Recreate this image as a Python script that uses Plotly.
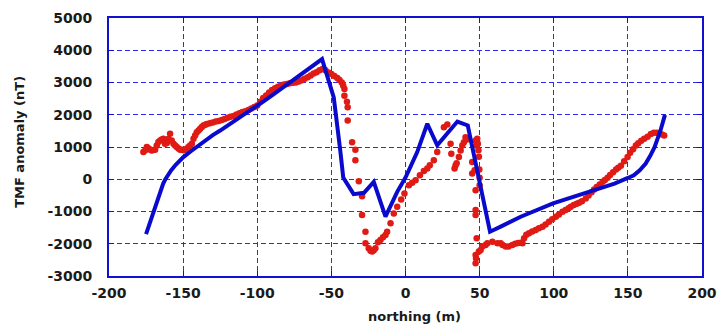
import plotly.graph_objects as go

# Observed TMF anomaly (red dots)
red_x = [-176.8, -175.5, -174.5, -173.5, -172.3, -171.2, -170.0, -168.9, -167.8, -166.7,
         -165.5, -164.4, -163.3, -162.2, -161.0, -160.0, -158.8, -157.7, -156.5, -155.4,
         -154.3, -153.1, -152.0, -150.9, -149.8, -148.6, -147.5, -146.4, -145.3, -144.1,
         -143.0, -141.9, -140.8, -139.6, -138.5, -137.4, -136.3, -135.1, -134, -132,
         -130, -128, -126, -124, -122, -120, -118, -116, -114, -112,
         -110, -108, -106, -104, -102, -100, -98, -96, -94, -92,
         -90, -88, -86, -84, -82, -80, -78, -76, -74, -72,
         -70, -68, -66, -64, -62, -60, -58, -56, -54, -52,
         -50, -48, -46, -44.5, -43, -42, -41.2, -41.2, -39.5, -39,
         -39, -36, -33.8, -33.8, -31.5, -29.3, -29.3, -27, -27, -24.8,
         -23.6, -22.5, -21.4, -20.3, -18.6, -16.9, -15.2, -13.5, -12.4, -10.1,
         -7.9, -5.6, -2.9, -0.7, 2.3, 4.5, 6.8, 9.7, 12.4, 14.7,
         16.4, 19.1, 21.4, 25.9, 28.2, 30.4, 30.9, 33.1, 33.8, 34.5,
         36, 37.2, 38.3, 39.4, 40.5, 41.5, 45, 45, 46.6, 47.3,
         48, 48.4, 48.8, 49.2, 49.5, 49.8, 50, 50, 47.3, 47.3,
         47.3, 48, 47.3, 47.3, 47.6, 49.5, 50.7, 51.8, 54, 55.2,
         58.6, 62, 64.2, 65.5, 67.6, 69.5, 72.1, 74, 76, 77.7,
         78.9, 80, 81.5, 83.3, 85.5, 87.8, 90, 92.4, 94.5, 96.8,
         99, 101.4, 103.5, 105.9, 108, 110, 111.5, 113.5, 115.5, 117.1,
         119, 121.6, 123.5, 125.5, 127.2, 129, 131, 133, 134.5, 136.3,
         138, 140, 142, 143.5, 145.3, 147.5, 149.8, 151.5, 153.5, 155.4,
         157, 159, 161, 163.3, 165.5, 167.5, 169.5, 171.5, 173, 174.5]
red_y = [843, 900, 997, 960, 920, 894, 910, 915, 1050, 1152,
         1204, 1230, 1255, 1100, 1121, 1250, 1409, 1200, 1100, 1050,
         997, 950, 915, 916, 900, 920, 947, 1000, 1050, 1100,
         1255, 1358, 1460, 1512, 1564, 1620, 1667, 1690, 1710, 1738,
         1760, 1790, 1810, 1840, 1870, 1904, 1935, 1965, 2006, 2045,
         2085, 2110, 2150, 2190, 2240, 2284, 2400, 2520, 2600, 2690,
         2770, 2820, 2870, 2905, 2935, 2954, 2975, 2990, 3003, 3030,
         3070, 3115, 3160, 3220, 3280, 3320, 3380, 3417, 3380, 3312,
         3260, 3200, 3140, 3080, 3003, 2900, 2799, 2593, 2400, 2231,
         1821, 1151, 916, 586, -62, -525, -1111, -1626, -1985, -2139,
         -2220, -2243, -2200, -2139, -1950, -1883, -1800, -1728, -1626, -1368,
         -1059, -854, -627, -442, -185, -110, -31, 123, 257, 330,
         432, 586, 843, 1614, 1697, 1100, 793, 330, 432, 500,
         688, 895, 1049, 1151, 1306, 1230, 534, 176, 278, 1204,
         1049, 1256, 1100, 900, 700, 300, 50, -185, -340, -957,
         -1111, -1830, -2346, -2602, -2450, -2243, -2191, -2089, -2037, -1985,
         -1935, -1985, -1985, -2040, -2089, -2089, -2037, -2000, -1980, -1966,
         -1985, -1830, -1720, -1676, -1620, -1574, -1520, -1472, -1400, -1318,
         -1240, -1163, -1090, -1009, -950, -900, -855, -800, -760, -731,
         -680, -596, -500, -400, -320, -240, -160, -80, -20, 50,
         130, 220, 300, 360, 420, 560, 690, 820, 930, 1049,
         1120, 1190, 1256, 1320, 1400, 1440, 1440, 1410, 1390, 1358]

# Model curve (blue line)
model_x = [-175, -172.5, -170.3, -167, -165, -163.5, -162, -160, -158, -155,
           -152, -150, -145, -140, -135, -130, -125, -120, -115, -110,
           -105, -100, -95, -90, -85, -80, -75, -70, -65, -60,
           -56.3, -52, -48.4, -44, -42, -35, -28, -21.4, -13.5, -5.6,
           0, 7.9, 14.7, 21.4, 35, 42, 57, 64.2, 77.7, 99.5,
           125, 141, 150, 154, 158, 162, 165, 168, 172, 175]
model_y = [-1700, -1350, -1008, -560, -320, -140, 0, 150, 280, 450,
           590, 680, 860, 1040, 1220, 1370, 1510, 1660, 1810, 1960,
           2120, 2280, 2440, 2600, 2770, 2930, 3100, 3270, 3430, 3600,
           3725, 3080, 2540, 895, 52, -463, -420, -83, -1160, -390,
           52, 843, 1720, 1050, 1790, 1667, -1626, -1470, -1163, -750,
           -390, -133, 40, 123, 280, 485, 720, 997, 1512, 1997]

x_ticks = [-200, -150, -100, -50, 0, 50, 100, 150, 200]
y_ticks = [-3000, -2000, -1000, 0, 1000, 2000, 3000, 4000, 5000]

BLUE = "#1010d0"
GRID = "#2a2af0"
TXT = "#1a1a1a"
FONT = "DejaVu Sans"

fig = go.Figure()
fig.add_trace(go.Scatter(x=red_x, y=red_y, mode="markers",
                         marker=dict(color="#e01a14", size=6.5, line=dict(width=0)),
                         showlegend=False))
fig.add_trace(go.Scatter(x=model_x, y=model_y, mode="lines",
                         line=dict(color="#0a0acd", width=4),
                         showlegend=False))

axis_common = dict(
    showline=True, linecolor=BLUE, linewidth=2, mirror="ticks",
    showgrid=True, gridcolor=GRID, gridwidth=1, griddash="5px,3px",
    ticks="inside", ticklen=5, tickcolor=BLUE, tickwidth=1,
    zeroline=False, automargin=False,
    tickfont=dict(family=FONT, size=14, color=TXT, weight="bold"),
)

fig.update_xaxes(range=[-200, 200], tickvals=x_ticks,
                 ticktext=[str(v) for v in x_ticks],
                 ticklabelstandoff=3, **axis_common)
fig.update_yaxes(range=[-3000, 5000], tickvals=y_ticks,
                 ticktext=[str(v) for v in y_ticks],
                 ticklabelstandoff=12, **axis_common)

fig.update_layout(
    width=717, height=326,
    margin=dict(l=109, r=15, t=18, b=50),
    paper_bgcolor="white", plot_bgcolor="white",
    annotations=[
        dict(text="northing (m)", x=0.516, y=0, xref="paper", yref="paper",
             xanchor="center", yanchor="middle", yshift=-40, showarrow=False,
             font=dict(family=FONT, size=13, color=TXT, weight="bold")),
        dict(text="TMF anomaly (nT)", x=0, y=0.52, xref="paper", yref="paper",
             xanchor="center", yanchor="middle", xshift=-89, textangle=-90,
             showarrow=False,
             font=dict(family=FONT, size=13, color=TXT, weight="bold")),
    ],
)

fig.write_html("out.html")
